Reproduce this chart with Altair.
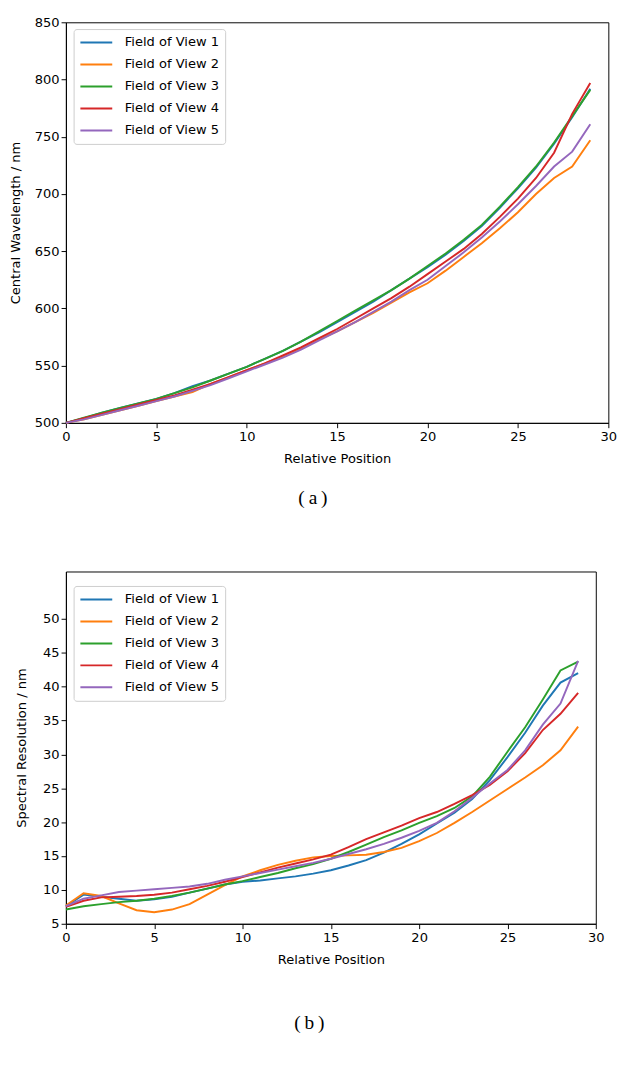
import altair as alt
import pandas as pd

positions = list(range(30))
series_names = ["Field of View 1", "Field of View 2", "Field of View 3",
                "Field of View 4", "Field of View 5"]
series_colors = ["#1f77b4", "#ff7f0e", "#2ca02c", "#d62728", "#9467bd"]

# (a) Central wavelength / nm
wl_fov1 = [500, 504, 509, 513, 517, 521, 526, 532, 537, 543, 549, 556, 563, 571, 579,
           588, 597, 606, 616, 626, 636, 647, 659, 672, 688, 705, 723, 744, 767, 792]
wl_fov2 = [500, 503, 507, 511, 515, 519, 523, 527, 534, 540, 546, 552, 558, 565, 573,
           580, 588, 596, 605, 614, 622, 633, 645, 657, 670, 684, 700, 714, 724, 747]
wl_fov3 = [500, 504.5, 509, 513, 517, 521, 526, 531, 537, 543, 549, 556, 563, 571, 580,
           589, 598, 607, 616, 626, 637, 648, 660, 673, 689, 706, 724, 745, 768, 791]
wl_fov4 = [500, 504, 508, 512, 516, 520, 524, 529, 534, 540, 546, 552, 559, 566, 574,
           582, 591, 600, 609, 619, 630, 641, 652, 665, 680, 696, 714, 736, 770, 797]
wl_fov5 = [500, 503, 507, 511, 515, 519, 523, 528, 533, 539, 545, 551, 557, 564, 572,
           580, 588, 597, 606, 616, 625, 637, 649, 662, 676, 691, 707, 724, 737, 761]

# (b) Spectral resolution / nm
res_fov1 = [7.6, 9.3, 9.0, 8.7, 8.4, 8.6, 9.0, 9.6, 10.2, 10.8, 11.2, 11.4, 11.7, 12.0, 12.4,
            12.9, 13.6, 14.4, 15.5, 16.8, 18.2, 19.8, 21.4, 23.4, 26.2, 29.6, 33.2, 37.2, 40.6, 42.0]
res_fov2 = [7.7, 9.5, 9.1, 8.0, 7.0, 6.7, 7.1, 7.9, 9.3, 10.7, 12.0, 12.9, 13.7, 14.3, 14.8,
            15.0, 15.1, 15.2, 15.6, 16.2, 17.2, 18.4, 19.9, 21.5, 23.2, 24.9, 26.6, 28.4, 30.6, 34.1]
res_fov3 = [7.1, 7.6, 7.9, 8.2, 8.4, 8.7, 9.1, 9.6, 10.2, 10.8, 11.3, 11.9, 12.5, 13.2, 13.8,
            14.6, 15.6, 16.7, 17.8, 18.8, 19.9, 20.9, 22.1, 23.8, 26.7, 30.4, 34.0, 38.1, 42.4, 43.7]
res_fov4 = [7.5, 8.4, 8.9, 9.0, 9.1, 9.3, 9.6, 10.1, 10.6, 11.2, 11.9, 12.6, 13.3, 13.9, 14.5,
            15.2, 16.3, 17.5, 18.5, 19.5, 20.6, 21.5, 22.7, 24.0, 25.5, 27.5, 30.2, 33.6, 36.0, 39.1]
res_fov5 = [7.6, 8.7, 9.2, 9.7, 9.9, 10.1, 10.3, 10.5, 10.9, 11.5, 12.0, 12.5, 13.0, 13.5, 14.0,
            14.6, 15.3, 16.0, 16.8, 17.7, 18.7, 19.9, 21.6, 23.6, 25.7, 27.7, 30.6, 34.4, 37.5, 43.8]

x_ticks = [0, 5, 10, 15, 20, 25, 30]
wl_ticks = [500, 550, 600, 650, 700, 750, 800, 850]
res_ticks = [5, 10, 15, 20, 25, 30, 35, 40, 45, 50]

FONT = "DejaVu Sans"
CAPFONT = "Liberation Serif"


def to_long(values_list, field):
    rows = []
    for name, vals in zip(series_names, values_list):
        for p, v in zip(positions, vals):
            rows.append({"pos": p, field: v, "series": name})
    return pd.DataFrame(rows)


def make_legend(ly):
    return alt.Legend(title=None, orient="none", legendX=8, legendY=ly,
                      symbolType="stroke", symbolSize=1089, symbolStrokeWidth=2,
                      labelFont=FONT, labelFontSize=13.5, labelColor="black",
                      labelOffset=12, padding=6, rowPadding=6.75, clipHeight=16,
                      strokeColor="#cccccc", fillColor="white", cornerRadius=3)


def panel(df, field, ytitle, ydomain, yticks, width, height, caption, ytitlepad,
          cap_offset, ly):
    return alt.Chart(df).mark_line(strokeWidth=2).encode(
        x=alt.X("pos:Q", scale=alt.Scale(domain=[0, 30], nice=False, zero=False),
                axis=alt.Axis(values=x_ticks, title="Relative Position", labelFlush=False,
                              titlePadding=10)),
        y=alt.Y(f"{field}:Q", scale=alt.Scale(domain=ydomain, nice=False, zero=False),
                axis=alt.Axis(values=yticks, title=ytitle, labelFlush=False,
                              titlePadding=ytitlepad)),
        color=alt.Color("series:N",
                        scale=alt.Scale(domain=series_names, range=series_colors),
                        legend=make_legend(ly)),
    ).properties(
        width=width, height=height,
        title=alt.TitleParams(text=caption, orient="bottom", anchor="middle", frame="bounds",
                              font=CAPFONT, fontSize=20, fontWeight="normal",
                              color="black", offset=cap_offset),
    )


top = panel(to_long([wl_fov1, wl_fov2, wl_fov3, wl_fov4, wl_fov5], "wl"),
            "wl", "Central Wavelength / nm", [500, 850], wl_ticks, 562, 415,
            "(\u2009a\u2009)", 12, 24, 7)
bottom = panel(to_long([res_fov1, res_fov2, res_fov3, res_fov4, res_fov5], "res"),
               "res", "Spectral Resolution / nm", [5, 57], res_ticks, 549, 365,
               "(\u2009b\u2009)", 15, 49, 15)

chart = alt.vconcat(top, bottom, spacing=64).resolve_scale(
    color="independent").resolve_legend(color="independent").properties(
    padding={"top": -12, "left": 0, "right": 0, "bottom": 0}
).configure_view(
    stroke="black", strokeWidth=1
).configure_axis(
    labelFont=FONT, titleFont=FONT, labelFontSize=13.5, titleFontSize=13.5,
    titleFontWeight="normal", labelColor="black", titleColor="black",
    domainColor="black", tickColor="black", tickSize=5, tickWidth=1,
    labelPadding=2, grid=False
)

chart.save("out.html", embed_options={"renderer": "svg", "actions": False})
